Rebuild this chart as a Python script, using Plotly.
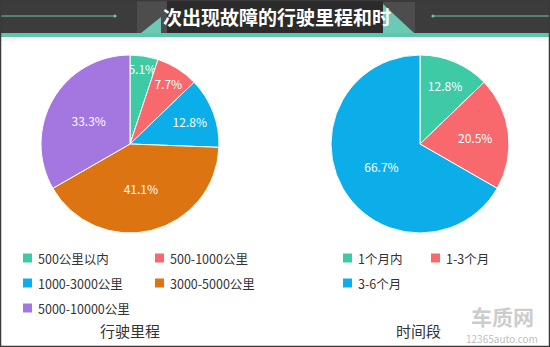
import plotly.graph_objects as go

W, H = 550, 347

# ---- data -------------------------------------------------------------
mileage_labels = ["500公里以内", "500-1000公里", "1000-3000公里", "3000-5000公里", "5000-10000公里"]
mileage_share = [5.1, 7.7, 12.8, 41.1, 33.3]
mileage_colors = ["#3fcaa6", "#f7696c", "#0caeea", "#dc7411", "#a376e0"]

period_labels = ["1个月内", "1-3个月", "3-6个月"]
period_share = [12.8, 20.5, 66.7]
period_colors = ["#3fcaa6", "#f7696c", "#0caeea"]

panel_titles = ["行驶里程", "时间段"]
header_title = "次出现故障的行驶里程和时"

FONT = "Noto Sans CJK SC, Noto Sans, sans-serif"


def px(x):
    return x / W


def py(y):
    return 1 - y / H


def domain(cx, cy, r):
    return dict(x=[px(cx - r), px(cx + r)], y=[py(cy + r), py(cy - r)])


def pie(labels, values, colors, dom):
    return go.Pie(
        labels=labels, values=values, sort=False, direction="clockwise",
        marker=dict(colors=colors, line=dict(color="white", width=1)),
        texttemplate="%{value:.1f}%", textposition="inside",
        insidetextorientation="horizontal",
        textfont=dict(color="white", size=12, family=FONT),
        domain=dom, showlegend=False, hoverinfo="label+percent",
    )


fig = go.Figure()
fig.add_trace(pie(mileage_labels, mileage_share, mileage_colors, domain(130, 144, 89)))
fig.add_trace(pie(period_labels, period_share, period_colors, domain(420, 144, 89)))

shapes = []
annotations = []


def rect(x0, y0, x1, y1, color, line=None):
    shapes.append(dict(type="rect", xref="paper", yref="paper",
                       x0=px(x0), x1=px(x1), y0=py(y1), y1=py(y0),
                       fillcolor=color, line=dict(width=0) if line is None else line,
                       layer="above"))


def poly(points, color):
    d = "M " + " L ".join(f"{px(x)},{py(y)}" for x, y in points) + " Z"
    shapes.append(dict(type="path", xref="paper", yref="paper", path=d,
                       fillcolor=color, line=dict(width=0), layer="above"))


# header band
rect(0, 0, W, 33, "#3c3c3c")
rect(137, 0, 167, 33, "#4d4d4d")
rect(167, 0, 383, 33, "#2b2b2b")
rect(383, 2, 415, 33, "#4d4d4d")
poly([(141, 33), (161, 17), (161, 33)], "#6cc9b6")
poly([(383, 4), (383, 33), (414, 33)], "#6cc9b6")
rect(0, 33, W, 37, "#5cc6af")
rect(0, 39.5, W, 40.5, "#f3ecf2")
for x0, x1 in [(0, 115), (433, W)]:
    shapes.append(dict(type="line", xref="paper", yref="paper",
                       x0=px(x0), x1=px(x1), y0=py(16), y1=py(16),
                       line=dict(color="#6cc3ae", width=1), layer="above"))
for xc in (115, 433):
    shapes.append(dict(type="circle", xref="paper", yref="paper",
                       x0=px(xc - 1.6), x1=px(xc + 1.6), y0=py(17.6), y1=py(14.4),
                       fillcolor="#6cc3ae", line=dict(width=0), layer="above"))

annotations.append(dict(text=f"<b>{header_title}</b>", x=px(277), y=py(17),
                        xref="paper", yref="paper", showarrow=False,
                        xanchor="center", yanchor="middle",
                        font=dict(family=FONT, size=19, color="white")))

# frame
shapes.append(dict(type="rect", xref="paper", yref="paper", x0=px(0.5), x1=px(W - 0.5),
                   y0=py(H - 0.5), y1=py(0.5), line=dict(color="#3a3a3a", width=1.5),
                   fillcolor="rgba(0,0,0,0)", layer="above"))


# legends
def legend(labels, colors, cols, rows):
    for i, (lab, col) in enumerate(zip(labels, colors)):
        xs = cols[i % len(cols)]
        yc = rows[i // len(cols)]
        rect(xs, yc - 4.5, xs + 9, yc + 4.5, col)
        annotations.append(dict(text=lab, x=px(xs + 12.5), y=py(yc), xref="paper", yref="paper",
                                showarrow=False, xanchor="left", yanchor="middle",
                                font=dict(family=FONT, size=12.5, color="#333333")))


legend(mileage_labels, mileage_colors, [23, 155], [258, 283, 308])
legend(period_labels, period_colors, [343, 431], [258, 283])

for title, xc in zip(panel_titles, [130, 418]):
    annotations.append(dict(text=title, x=px(xc), y=py(330), xref="paper", yref="paper",
                            showarrow=False, xanchor="center", yanchor="middle",
                            font=dict(family=FONT, size=15, color="#333333")))

# watermark
annotations.append(dict(text="<b>车质网</b>", x=px(502), y=py(316), xref="paper", yref="paper",
                        showarrow=False, xanchor="center", yanchor="middle",
                        font=dict(family=FONT, size=21, color="rgba(170,170,170,0.6)")))
annotations.append(dict(text="12365auto.com", x=px(502), y=py(338.5), xref="paper", yref="paper",
                        showarrow=False, xanchor="center", yanchor="middle",
                        font=dict(family=FONT, size=10, color="rgba(160,160,160,0.7)")))

fig.update_layout(
    width=W, height=H, margin=dict(l=0, r=0, t=0, b=0),
    paper_bgcolor="white", plot_bgcolor="white",
    shapes=shapes, annotations=annotations,
    uniformtext=dict(minsize=11, mode="show"),
    font=dict(family=FONT),
)

fig.write_html("out.html")
